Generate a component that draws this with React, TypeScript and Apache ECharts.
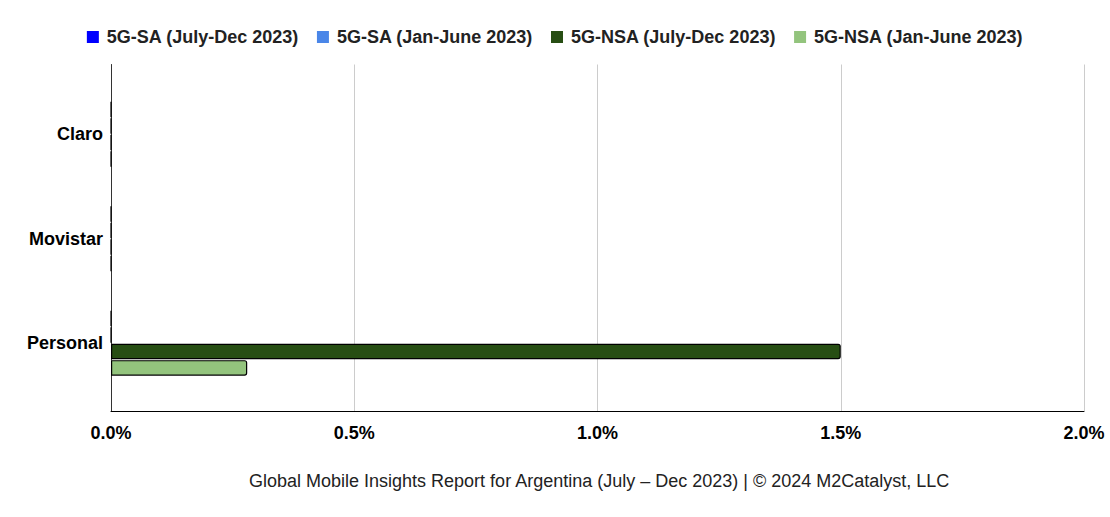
import React, { useEffect, useRef } from "react";
import * as echarts from "echarts";

const categories = ["Claro", "Movistar", "Personal"];
const seriesNames = [
  "5G-SA (July-Dec 2023)",
  "5G-SA (Jan-June 2023)",
  "5G-NSA (July-Dec 2023)",
  "5G-NSA (Jan-June 2023)",
];
const saJulDec = [0, 0, 0];
const saJanJun = [0, 0, 0];
const nsaJulDec = [0, 0, 1.5];
const nsaJanJun = [0, 0, 0.28];
const seriesColors = ["#0000ff", "#4a86e8", "#274e13", "#93c47d"];
const xTicks = [0, 0.5, 1.0, 1.5, 2.0];
const footer =
  "Global Mobile Insights Report for Argentina (July – Dec 2023) | © 2024 M2Catalyst, LLC";

const FONT = "Liberation Sans, Arial, sans-serif";

export default function App() {
  const ref = useRef<HTMLDivElement>(null);
  useEffect(() => {
    if (!ref.current) return;
    const chart = echarts.init(ref.current, null, { renderer: "svg" });
    const values = [saJulDec, saJanJun, nsaJulDec, nsaJanJun];
    chart.setOption({
      animation: false,
      backgroundColor: "#ffffff",
      textStyle: { fontFamily: FONT },
      legend: {
        top: 28,
        left: "center",
        padding: 0,
        itemWidth: 12,
        itemHeight: 12,
        itemGap: 18,
        icon: "rect",
        itemStyle: { borderWidth: 0 },
        textStyle: {
          fontSize: 18,
          fontWeight: "bold",
          color: "#222222",
          fontFamily: FONT,
          padding: [0, 0, 0, 3],
        },
        data: seriesNames,
      },
      grid: [
        { left: 111, width: 973, top: 82, height: 313.5, containLabel: false },
        { left: 111, width: 973, top: 64.5, height: 346.5, containLabel: false },
      ],
      xAxis: [
        {
          type: "value",
          gridIndex: 0,
          min: 0,
          max: 2,
          interval: 0.5,
          show: false,
        },
        {
          type: "value",
          gridIndex: 1,
          min: 0,
          max: 2,
          interval: 0.5,
          axisLine: { show: true, lineStyle: { color: "#000000", width: 1 } },
          axisTick: { show: false },
          splitLine: { show: true, lineStyle: { color: "#cccccc", width: 1 } },
          axisLabel: {
            margin: 13,
            fontSize: 18,
            fontWeight: "bold",
            color: "#000000",
            fontFamily: FONT,
            formatter: (v: number) =>
              xTicks.indexOf(v) >= 0 ? v.toFixed(1) + "%" : "",
          },
        },
      ],
      yAxis: [
        {
          type: "category",
          gridIndex: 0,
          inverse: true,
          data: categories,
          axisLine: { show: false },
          axisTick: { show: false },
          axisLabel: {
            margin: 8,
            fontSize: 18,
            fontWeight: "bold",
            color: "#000000",
            fontFamily: FONT,
          },
        },
        {
          type: "value",
          gridIndex: 1,
          min: 0,
          max: 1,
          axisLine: { show: true, lineStyle: { color: "#333333", width: 1 } },
          axisTick: { show: false },
          axisLabel: { show: false },
          splitLine: { show: false },
        },
      ],
      series: seriesNames.map((name, i) => ({
        name,
        type: "bar",
        xAxisIndex: 0,
        yAxisIndex: 0,
        data: values[i],
        barWidth: 15.5,
        barGap: "6%",
        itemStyle: {
          color: seriesColors[i],
          borderColor: "#000000",
          borderWidth: 1.2,
          borderRadius: [0, 2, 2, 0],
        },
      })),
      graphic: [
        {
          type: "text",
          left: 249,
          top: 472,
          style: {
            text: footer,
            fontSize: 18,
            fill: "#222222",
            fontFamily: FONT,
          },
        },
      ],
    });
    return () => chart.dispose();
  }, []);
  return (
    <div
      ref={ref}
      style={{ position: "absolute", left: 0, top: 0, width: 1110, height: 517 }}
    />
  );
}
